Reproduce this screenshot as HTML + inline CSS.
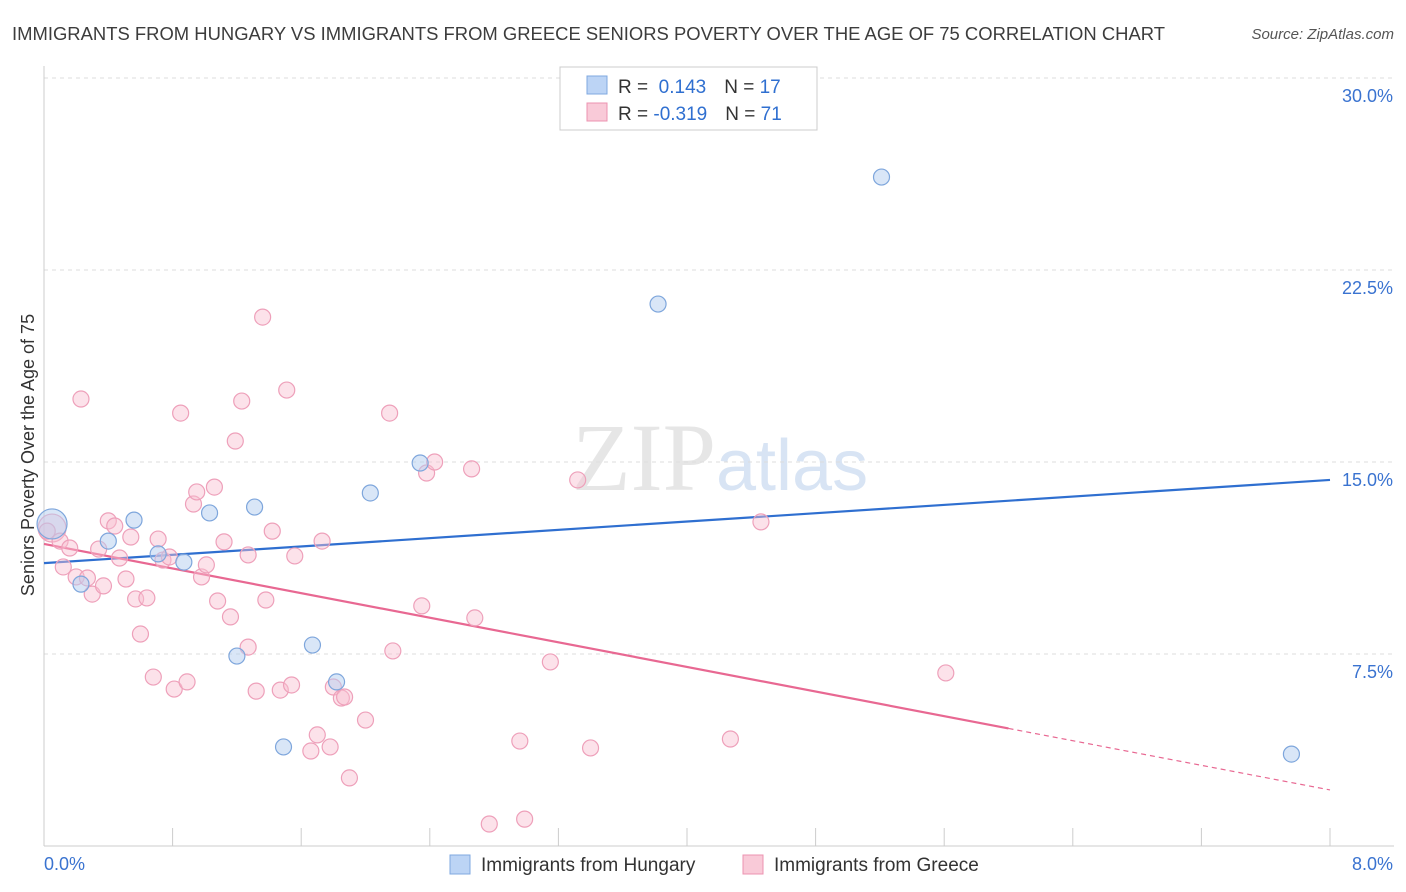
<!DOCTYPE html>
<html><head><meta charset="utf-8"><style>
body{margin:0;background:#fff;font-family:"Liberation Sans",sans-serif;}
svg{display:block}
</style></head><body>
<svg id="c" width="1406" height="892">
<text x="12" y="40" font-size="18" fill="#3c3c3c" textLength="1153" lengthAdjust="spacingAndGlyphs">IMMIGRANTS FROM HUNGARY VS IMMIGRANTS FROM GREECE SENIORS POVERTY OVER THE AGE OF 75 CORRELATION CHART</text>
<text x="1394" y="39" font-size="15" fill="#555" font-style="italic" text-anchor="end">Source: ZipAtlas.com</text>
<text x="716" y="490" font-size="96" fill="#e6e6e6" font-family="Liberation Serif,serif" text-anchor="end">ZIP</text>
<text x="716" y="490" font-size="72" fill="#d8e4f4">atlas</text>
<text transform="translate(34,455) rotate(-90)" font-size="18" fill="#333" text-anchor="middle">Seniors Poverty Over the Age of 75</text>
<g id="grid"></g><g id="lines"></g><g id="pts"></g>
<g>
<rect x="560" y="67" width="257" height="63" fill="#fff" stroke="#ccc"/>
<rect x="587" y="76" width="20" height="18" fill="#bcd4f5" stroke="#7fa8e0"/>
<rect x="587" y="103" width="20" height="18" fill="#f9cad8" stroke="#ec93b0"/>
<text x="618" y="93" font-size="19" fill="#333">R = <tspan fill="#2f6fd0">&#160;0.143</tspan><tspan dx="18">N = </tspan><tspan fill="#2f6fd0">17</tspan></text>
<text x="618" y="120" font-size="19" fill="#333">R = <tspan fill="#2f6fd0">-0.319</tspan><tspan dx="18">N = </tspan><tspan fill="#2f6fd0">71</tspan></text>
</g>
<g>
<rect x="450" y="855" width="20" height="19" fill="#bcd4f5" stroke="#7fa8e0"/>
<text x="481" y="871" font-size="19" fill="#333">Immigrants from Hungary</text>
<rect x="743" y="855" width="20" height="19" fill="#f9cad8" stroke="#ec93b0"/>
<text x="774" y="871" font-size="19" fill="#333">Immigrants from Greece</text>
</g>
</svg>
<script>
const xTicks=[0,0.8,1.6,2.4,3.2,4.0,4.8,5.6,6.4,7.2,8.0];
const yTicks=[7.5,15,22.5,30];
const yTickLabels=["7.5%","15.0%","22.5%","30.0%"];
const xTickLabels=["0.0%","8.0%"];
const hungaryX=[0.05,0.40,0.56,0.23,0.71,0.87,1.03,1.31,1.20,1.49,1.67,1.82,2.03,2.34,3.82,5.21,7.76];
const hungaryY=[12.58,11.91,12.73,10.23,11.41,11.09,13.01,13.24,7.42,3.87,7.85,6.41,13.79,14.96,21.17,26.13,3.59];
const greeceX=[0.05,0.02,0.10,0.16,0.12,0.20,0.27,0.30,0.23,0.34,0.37,0.40,0.44,0.47,0.51,0.54,0.57,0.60,0.64,0.68,0.71,0.74,0.78,0.81,0.85,0.89,0.93,0.95,0.98,1.01,1.06,1.08,1.12,1.16,1.19,1.23,1.27,1.27,1.32,1.36,1.38,1.42,1.47,1.51,1.54,1.56,1.66,1.70,1.73,1.78,1.80,1.85,1.87,1.90,2.00,2.15,2.17,2.35,2.38,2.43,2.66,2.68,2.77,2.96,2.99,3.15,3.32,3.40,4.27,4.46,5.61];
const greeceY=[12.42,12.30,11.91,11.64,10.90,10.51,10.47,9.84,17.46,11.60,10.16,12.70,12.50,11.25,10.43,12.07,9.65,8.28,9.69,6.60,11.99,11.17,11.29,6.13,16.91,6.41,13.36,13.83,10.51,10.98,14.02,9.57,11.88,8.95,15.82,17.38,7.77,11.37,6.05,20.66,9.61,12.30,6.09,17.81,6.29,11.33,3.71,4.34,11.91,3.87,6.21,5.78,5.82,2.66,4.92,16.91,7.62,9.38,14.57,15.00,14.73,8.91,0.86,4.10,1.05,7.19,14.30,3.83,4.18,12.66,6.76];
const hungaryTrend=[11.05,14.3];
const greeceTrend=[11.8,2.19];
const greeceSolidEnd=6.0;
const X=v=>44+v*160.75, Y=v=>846-v*25.6;
const NS="http://www.w3.org/2000/svg";
function mk(t,a,p){const e=document.createElementNS(NS,t);for(const k in a)e.setAttribute(k,a[k]);p.appendChild(e);return e;}
const grid=document.getElementById('grid');
yTicks.forEach((t,i)=>{
 const l=mk('line',{x1:44,x2:1394,y1:Y(t),y2:Y(t),stroke:'#ddd','stroke-dasharray':'4 4'},grid);
 
 
 const tx=mk('text',{x:1393,y:Y(t)+24,'font-size':18,fill:'#3a73d0','text-anchor':'end'},grid);
 tx.textContent=yTickLabels[i];
 
 
});
mk('line',{x1:44,x2:44,y1:66,y2:846,stroke:'#ccc'},grid);
mk('line',{x1:44,x2:1394,y1:846,y2:846,stroke:'#ccc'},grid);
xTicks.forEach(t=>{const l=mk('line',{x1:X(t),x2:X(t),y1:828,y2:846,stroke:'#ccc'},grid);
 
 });
[[0,'start',44],[8,'end',1393]].forEach((d,i)=>{const tx=mk('text',{x:d[2],y:870,'font-size':18,fill:'#3a73d0','text-anchor':d[1]},grid);
 tx.textContent=xTickLabels[i];
 
 });
const pts=document.getElementById('pts');
greeceX.forEach((x,i)=>{const c=mk('circle',{cx:X(x),cy:Y(greeceY[i]),r:i==0?14:8,fill:'rgba(248,190,208,0.45)',stroke:'#eea0ba','stroke-width':1.2},pts);
 
 });
hungaryX.forEach((x,i)=>{const c=mk('circle',{cx:X(x),cy:Y(hungaryY[i]),r:i==0?15:8,fill:'rgba(180,205,240,0.5)',stroke:'#7ea6dc','stroke-width':1.2},pts);
 
 });
const lines=document.getElementById('lines');
const hl=mk('line',{x1:X(0),y1:Y(hungaryTrend[0]),x2:X(8),y2:Y(hungaryTrend[1]),stroke:'#2f6fd0','stroke-width':2.2},lines);


const gy=x=>greeceTrend[0]+(greeceTrend[1]-greeceTrend[0])*x/8;
const gl=mk('line',{x1:X(0),y1:Y(gy(0)),x2:X(greeceSolidEnd),y2:Y(gy(greeceSolidEnd)),stroke:'#e86892','stroke-width':2.2},lines);


const gd=mk('line',{x1:X(greeceSolidEnd),y1:Y(gy(greeceSolidEnd)),x2:X(8),y2:Y(gy(8)),stroke:'#e86892','stroke-width':1.2,'stroke-dasharray':'5 4'},lines);


</script>
</body></html>
